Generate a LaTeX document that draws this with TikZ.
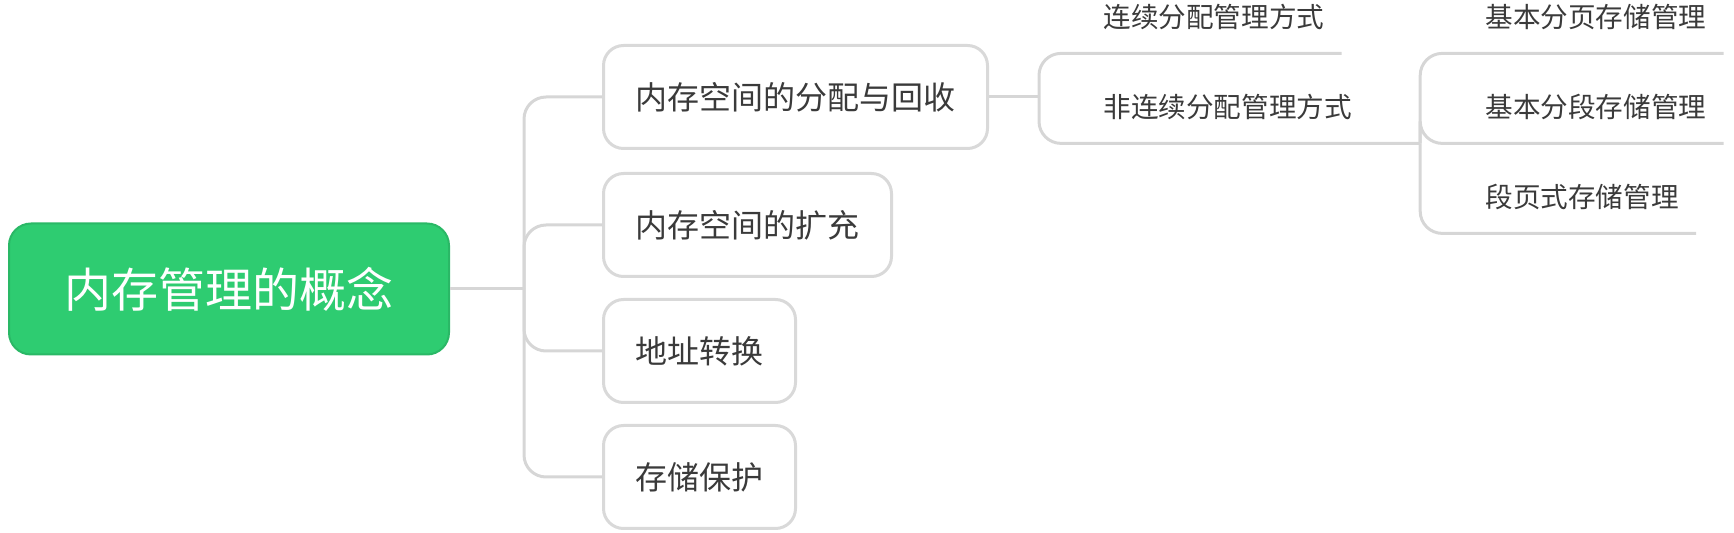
\documentclass[tikz,border=0pt]{standalone}
\usepackage{fontspec}
\usepackage{tikz}
\usetikzlibrary{calc}
\newfontfamily\cjk{Noto Sans CJK SC}
\definecolor{mindgreen}{HTML}{2ECC71}
\definecolor{mindgreendark}{HTML}{2AB866}
\definecolor{linegray}{HTML}{D6D6D6}
\definecolor{boxgray}{HTML}{D9D9D9}
\definecolor{textgray}{HTML}{3A3A3A}
\tikzset{
  raiz/.style={
    rounded corners=11pt,
    draw=mindgreendark,
    fill=mindgreen,
    line width=1pt,
    text=white,
    minimum width=220pt,
    minimum height=65.5pt,
    inner sep=0pt,
    font=\cjk\fontsize{23.5}{28}\selectfont
  },
  rama/.style={
    rounded corners=10pt,
    draw=boxgray,
    line width=1.5pt,
    fill=white,
    text=textgray,
    anchor=west,
    minimum height=51.5pt,
    inner xsep=16pt,
    font=\cjk\fontsize{16}{19}\selectfont
  },
  hoja/.style={
    anchor=west,
    text=textgray,
    minimum height=36pt,
    inner xsep=8.5pt,
    inner ysep=0pt,
    font=\cjk\fontsize{13.8}{16}\selectfont
  },
  link/.style={
    draw=linegray,
    line width=1.5pt,
    rounded corners=11pt
  }
}
\begin{document}
\begin{tikzpicture}[x=0.5pt,y=-0.5pt]
\useasboundingbox (0,0) rectangle (1734,533);
% root and first level
\node[raiz] (root) at (229,289) {内存管理的概念};
\node[rama] (c1) at (602,97) {内存空间的分配与回收};
\node[rama] (c2) at (602,225) {内存空间的扩充};
\node[rama] (c3) at (602,351) {地址转换};
\node[rama] (c4) at (602,477) {存储保护};
\coordinate (j0) at ($(root.east)+(74,0)$);
\draw[link] (root.east) -- (j0);
\foreach \c in {c1,c2,c3,c4}
  \draw[link] (j0) |- (\c.west);
% second level
\node[hoja] (l1) at (1086,17) {连续分配管理方式};
\node[hoja] (l2) at (1086,107) {非连续分配管理方式};
\coordinate (j1) at ($(c1.east)+(50,0)$);
\coordinate (j2) at ($(l2.south east)+(51,0)$);
\draw[link] (c1.east) -- (j1);
\draw[link] (j1) |- (l1.south east);
\draw[link] (j1) |- (j2);
% third level
\node[hoja] (m1) at (1468,17) {基本分页存储管理};
\node[hoja] (m2) at (1468,107) {基本分段存储管理};
\node[hoja] (m3) at (1468,197) {段页式存储管理};
\foreach \m in {m1,m2,m3}
  \draw[link] (j2) |- (\m.south east);
\end{tikzpicture}
\end{document}
